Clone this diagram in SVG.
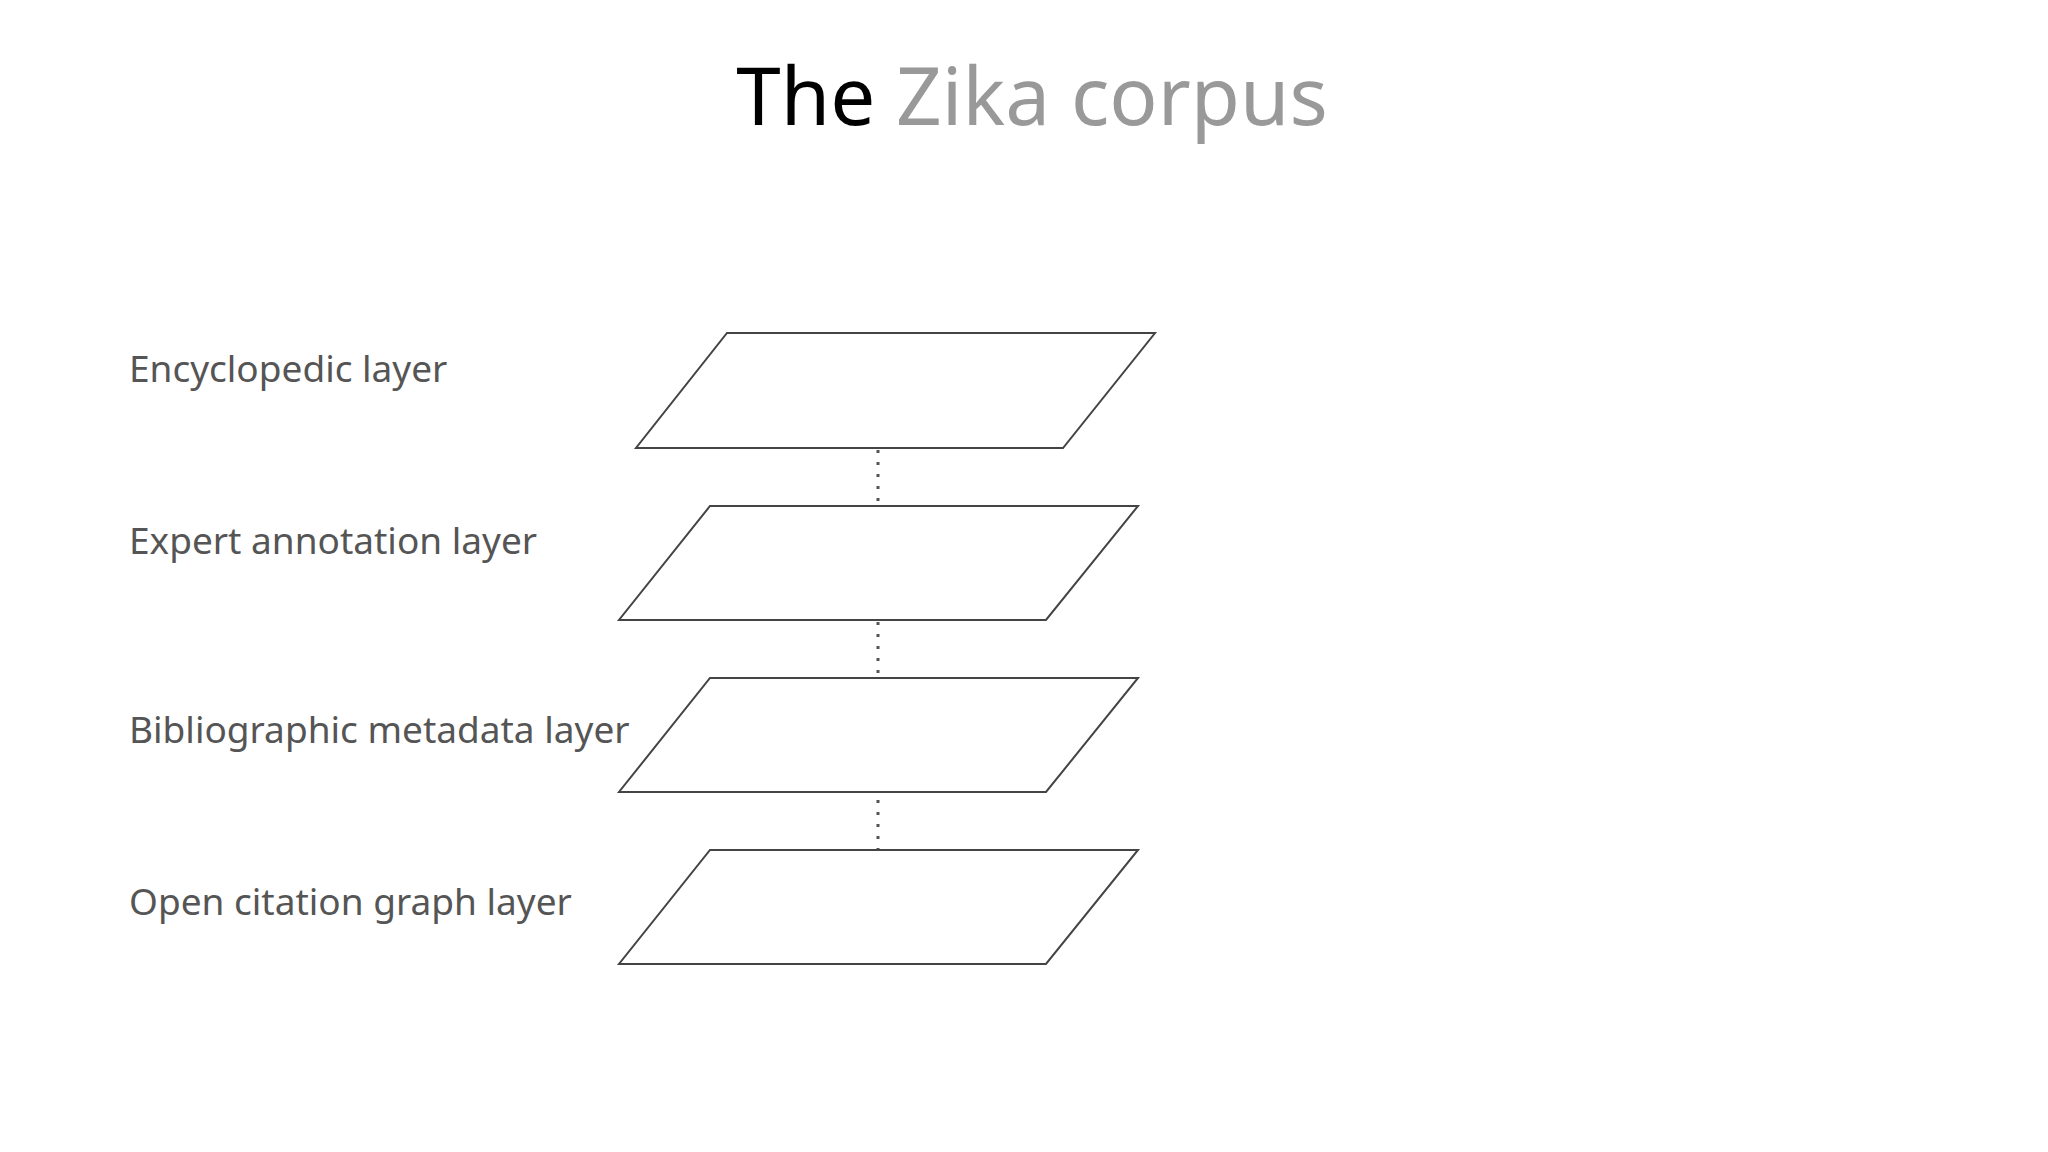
<svg xmlns="http://www.w3.org/2000/svg" width="2048" height="1152" viewBox="0 0 2048 1152">
<style>
.lbl{font-family:"Source Sans Pro","Noto Sans","Open Sans",sans-serif;font-size:37px;fill:#555}
.layer{fill:#fff;stroke:#444;stroke-width:2}
.dot{stroke:#555;stroke-width:3;stroke-dasharray:3 9}
</style>
<rect width="2048" height="1152" fill="#fff"/>
<text x="1032" y="125" text-anchor="middle" font-family="Source Sans Pro,Noto Sans,sans-serif" font-size="80"><tspan fill="#000">The </tspan><tspan fill="#999">Zika corpus</tspan></text>
<g id="connectors">
<line class="dot" x1="878" y1="450" x2="878" y2="540"/>
<line class="dot" x1="878" y1="622" x2="878" y2="711"/>
<line class="dot" x1="878" y1="800" x2="878" y2="896"/>
</g>
<g id="encyclopedic"><polygon class="layer" points="727,333 1155,333 1063,448 636,448"/><text class="lbl" x="129" y="382">Encyclopedic layer</text></g>
<g id="expert"><polygon class="layer" points="710,506 1138,506 1046,620 619,620"/><text class="lbl" x="129" y="554">Expert annotation layer</text></g>
<g id="biblio"><polygon class="layer" points="710,678 1138,678 1046,792 619,792"/><text class="lbl" x="129" y="743">Bibliographic metadata layer</text></g>
<g id="citation"><polygon class="layer" points="710,850 1138,850 1046,964 619,964"/><text class="lbl" x="129" y="915">Open citation graph layer</text></g>
</svg>
